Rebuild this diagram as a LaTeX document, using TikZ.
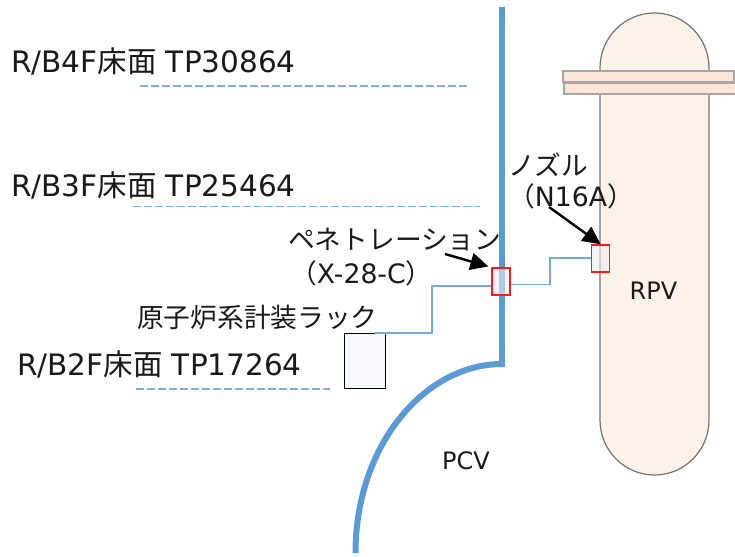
\documentclass[tikz,border=0pt]{standalone}
\usepackage{fontspec}
\setmainfont{DejaVu Sans}
\newfontfamily\cjk{Noto Sans CJK JP}
\usetikzlibrary{arrows.meta}
\newcommand{\J}[1]{{\cjk #1}}
\definecolor{wallblue}{HTML}{5B9BD5}
\definecolor{vessel}{HTML}{FCF2EA}
\definecolor{flange}{HTML}{FBE5D6}
\tikzset{
  x=1pt,y=-1pt,
  lbl/.style={inner sep=0pt,anchor=west,font=\fontsize{29.5}{33}\selectfont,text=black!90},
  lblsm/.style={inner sep=0pt,font=\fontsize{26.7}{30}\selectfont,text=black!90},
  lblxs/.style={inner sep=0pt,font=\fontsize{24}{28}\selectfont,text=black!90},
  lvl/.style={draw=wallblue!80,line width=1.1pt,dash pattern=on 8pt off 3pt},
  wall/.style={draw=wallblue,line width=6pt},
  pipe/.style={draw=wallblue!85,line width=1.4pt},
  port/.style={draw=red!90,line width=1.4pt,fill=black!8,fill opacity=.6,minimum width=18pt,inner sep=0pt},
  flangebox/.style={draw=black!35,line width=2pt,fill=flange},
  pointer/.style={draw=black,line width=2.4pt,-{Triangle[length=18pt,width=17pt]}},
}
\begin{document}
\begin{tikzpicture}
\useasboundingbox (0,0) rectangle (735,556);
% RPV
\begin{scope}
\clip (0,0) rectangle (735,556);
\draw[draw=black!55,line width=1.2pt,fill=vessel] (600,68) arc[start angle=180,end angle=0,x radius=54.5pt,y radius=55pt] -- (709,420) arc[start angle=0,end angle=-180,x radius=54.5pt,y radius=55pt] -- cycle;
\draw[flangebox] (564,83.5) rectangle (738,94.5);
\draw[flangebox] (563,71) rectangle (734,82);
\end{scope}
% levels
\coordinate (l1a) at (140,86); \coordinate (l1b) at (467,86);
\coordinate (l2a) at (133,206.5); \coordinate (l2b) at (480,206.5);
\coordinate (l3a) at (136,389); \coordinate (l3b) at (330,389);
\draw[lvl] (l1a) -- (l1b);
\draw[lvl] (l2a) -- (l2b);
\draw[lvl] (l3a) -- (l3b);
% PCV
\coordinate (wtop) at (502,7); \coordinate (wbot) at (502,364);
\coordinate (pcvend) at (355.5,553);
\draw[wall] (wtop) -- (502,366.5);
\draw[wall] (wbot) .. controls (425,364) and (355.5,445) .. (pcvend);
% rack
\node[draw=black,line width=1.2pt,fill=wallblue!6,minimum width=41pt,minimum height=55pt,inner sep=0pt] (rack) at (365,361) {};
% ports
\node[port,minimum height=27pt] (pen) at (501,281.5) {};
\node[port,minimum height=27pt] (noz) at (600.7,258.5) {};
% pipes
\draw[pipe] (375,333) -- (432,333) -- (432,286) -- (pen.west |- 0,286);
\draw[pipe] (pen.east |- 0,284.7) -- (550,284.7) -- (550,258) -- (noz.west |- 0,258);
% pointers
\coordinate (p1) at (445,254); \coordinate (p2) at (549,207);
\draw[pointer,shorten >=3pt] (p1) -- (pen.north west);
\draw[pointer] (p2) -- (noz.north);
% labels
\node[lbl] (t1) at (11,61) {R/B4F\J{床面} TP30864};
\node[lbl] (t2) at (11,185) {R/B3F\J{床面} TP25464};
\node[lbl] (t3) at (17,364) {R/B2F\J{床面} TP17264};
\node[lblsm,anchor=west] (t4) at (137,317) {\J{原子炉系計装ラック}};
\node[lblsm,anchor=west] (t5) at (288,240) {\J{ペネトレーション}};
\node[lblsm,anchor=west] (t6) at (290,273) {\J{（}X-28-C\J{）}};
\node[lblsm,anchor=west] (t7) at (508,165) {\J{ノズル}};
\node[lblsm,anchor=west] (t8) at (508,196) {\J{（}N16A\J{）}};
\node[lblxs] (rpv) at (653.5,291) {RPV};
\node[lblxs] (pcv) at (466,461) {PCV};
\end{tikzpicture}
\end{document}
